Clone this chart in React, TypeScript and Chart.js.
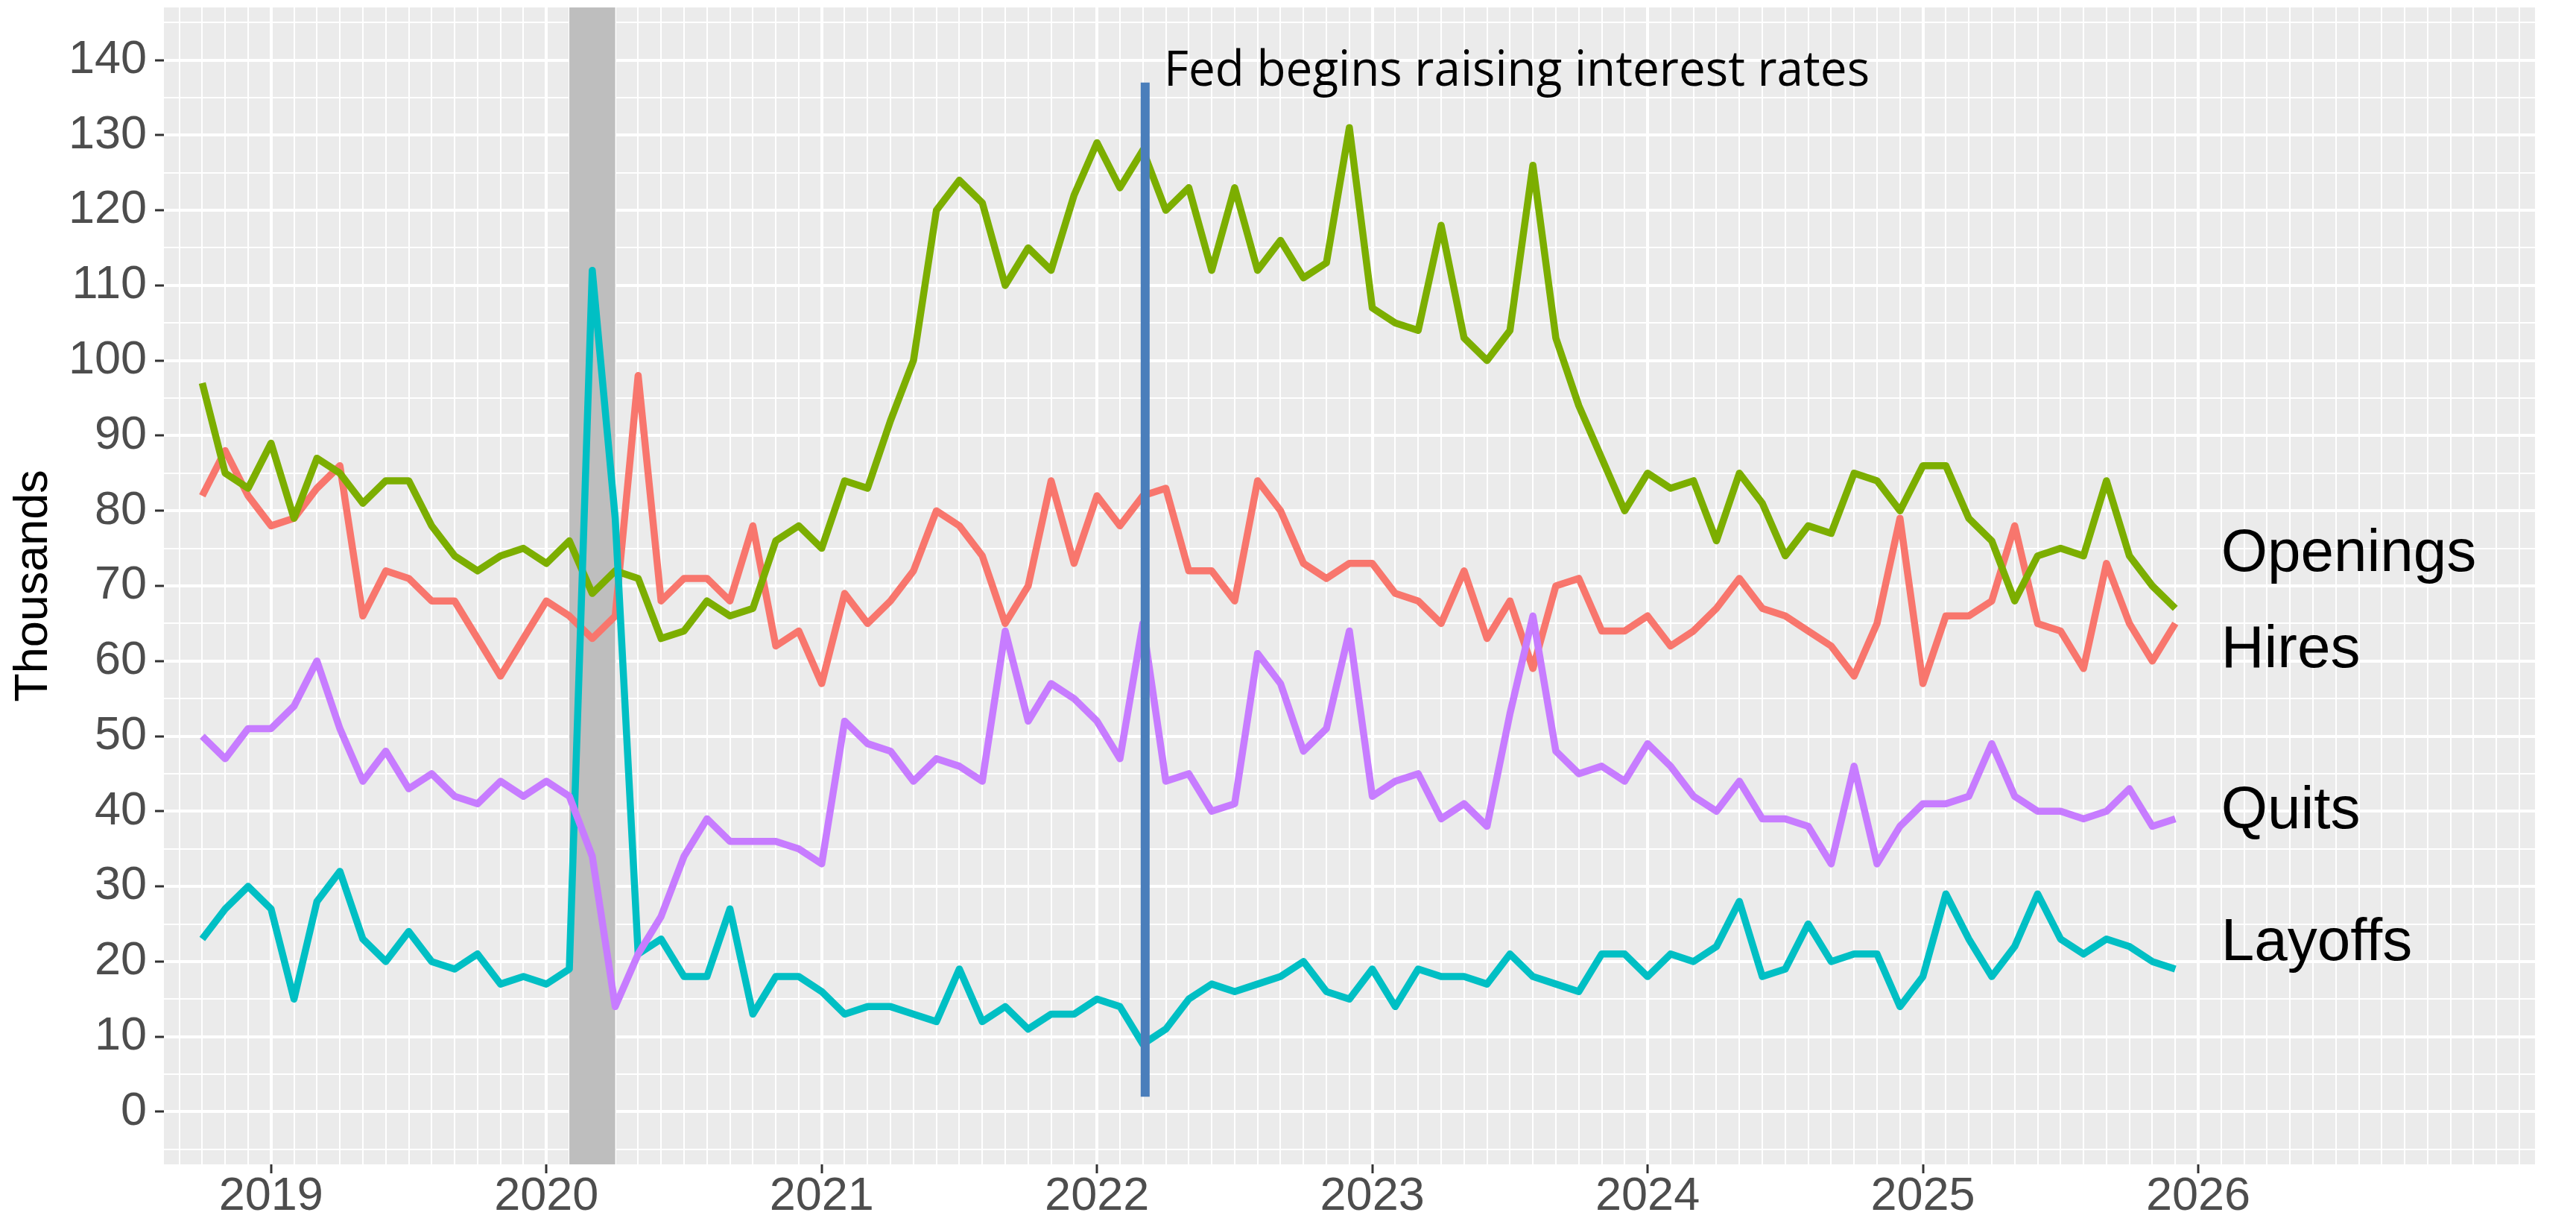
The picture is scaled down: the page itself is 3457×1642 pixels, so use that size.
import { useEffect, useRef } from 'react';
import { Chart, registerables } from 'chart.js';

Chart.register(...registerables);

// Month index: 0 = Jan 2019. First observation is Oct 2018.
const FIRST_MONTH = -3;

const OPENINGS = [
  97, 85, 83, 89, 79, 87, 85, 81, 84, 84, 78, 74,
  72, 74, 75, 73, 76, 69, 72, 71, 63, 64, 68, 66, 67,
  76, 78, 75, 84, 83, 92, 100, 120, 124, 121, 110, 115, 112,
  122, 129, 123, 128, 120, 123, 112, 123, 112, 116, 111, 113, 131,
  107, 105, 104, 118, 103, 100, 104, 126, 103, 94, 87, 80, 85,
  83, 84, 76, 85, 81, 74, 78, 77, 85, 84, 80, 86, 86,
  79, 76, 68, 74, 75, 74, 84, 74, 70, 67,
];

const HIRES = [
  82, 88, 82, 78, 79, 83, 86, 66, 72, 71, 68, 68,
  63, 58, 63, 68, 66, 63, 66, 98, 68, 71, 71, 68, 78,
  62, 64, 57, 69, 65, 68, 72, 80, 78, 74, 65, 70, 84,
  73, 82, 78, 82, 83, 72, 72, 68, 84, 80, 73, 71, 73,
  73, 69, 68, 65, 72, 63, 68, 59, 70, 71, 64, 64, 66,
  62, 64, 67, 71, 67, 66, 64, 62, 58, 65, 79, 57, 66,
  66, 68, 78, 65, 64, 59, 73, 65, 60, 65,
];

const QUITS = [
  50, 47, 51, 51, 54, 60, 51, 44, 48, 43, 45, 42,
  41, 44, 42, 44, 42, 34, 14, 21, 26, 34, 39, 36, 36,
  36, 35, 33, 52, 49, 48, 44, 47, 46, 44, 64, 52, 57,
  55, 52, 47, 65, 44, 45, 40, 41, 61, 57, 48, 51, 64,
  42, 44, 45, 39, 41, 38, 53, 66, 48, 45, 46, 44, 49,
  46, 42, 40, 44, 39, 39, 38, 33, 46, 33, 38, 41, 41,
  42, 49, 42, 40, 40, 39, 40, 43, 38, 39,
];

const LAYOFFS = [
  23, 27, 30, 27, 15, 28, 32, 23, 20, 24, 20, 19,
  21, 17, 18, 17, 19, 112, 79, 21, 23, 18, 18, 27, 13,
  18, 18, 16, 13, 14, 14, 13, 12, 19, 12, 14, 11, 13,
  13, 15, 14, 9, 11, 15, 17, 16, 17, 18, 20, 16, 15,
  19, 14, 19, 18, 18, 17, 21, 18, 17, 16, 21, 21, 18,
  21, 20, 22, 28, 18, 19, 25, 20, 21, 21, 14, 18, 29,
  23, 18, 22, 29, 23, 21, 23, 22, 20, 19,
];

const SERIES_NAMES = ['Openings', 'Hires', 'Quits', 'Layoffs'];
const YEAR_LABELS = [2019, 2020, 2021, 2022, 2023, 2024, 2025, 2026];
const Y_TICK_LABELS = [0, 10, 20, 30, 40, 50, 60, 70, 80, 90, 100, 110, 120, 130, 140];
const Y_TITLE = 'Thousands';

// Recession shading: Feb 2020 to Apr 2020 (month index)
const RECESSION = [13, 15];
// Fed annotation: March 2022
const FED_MONTH = 38.1;
const FED_SEGMENT = [2, 137];
const FED_TEXT = 'Fed begins raising interest rates';

// ---- layout / style constants ----
const W = 3457;
const H = 1642;
const X_MIN = -4.67;
const X_MAX = 98.68;
const Y_MIN = -7;
const Y_MAX = 147;
const FED_TEXT_POS = { x: 38.92, y: 136.6 };
const LABEL_X = 85.0;
const LABEL_BASELINES = [72, 59.2, 37.8, 20.2];

const COLORS: Record<string, string> = {
  Hires: '#F8766D',
  Openings: '#7CAE00',
  Layoffs: '#00BFC4',
  Quits: '#C77CFF',
};

const SANS = '"Liberation Sans", Arial, sans-serif';

const toPoints = (arr: number[]) => arr.map((v, i) => ({ x: FIRST_MONTH + i, y: v }));

const yearTickValues = YEAR_LABELS.map((yr) => (yr - 2019) * 12);

const panelPlugin = {
  id: 'panelDecor',
  beforeDraw(chart: any) {
    const { ctx, chartArea } = chart;
    ctx.save();
    ctx.fillStyle = '#FFFFFF';
    ctx.fillRect(0, 0, chart.width, chart.height);
    ctx.fillStyle = '#EBEBEB';
    ctx.fillRect(chartArea.left, chartArea.top, chartArea.right - chartArea.left, chartArea.bottom - chartArea.top);
    ctx.restore();
  },
  beforeDatasetsDraw(chart: any) {
    const { ctx, chartArea, scales } = chart;
    const x0 = scales.x.getPixelForValue(RECESSION[0]);
    const x1 = scales.x.getPixelForValue(RECESSION[1]);
    ctx.save();
    ctx.fillStyle = '#BEBEBE';
    ctx.fillRect(x0, chartArea.top, x1 - x0, chartArea.bottom - chartArea.top);
    ctx.restore();
  },
  afterDatasetsDraw(chart: any) {
    const { ctx, scales } = chart;
    const xs = scales.x;
    const ys = scales.y;
    ctx.save();
    // Fed line
    const fx = xs.getPixelForValue(FED_MONTH);
    ctx.strokeStyle = '#4A7EBB';
    ctx.lineWidth = 12;
    ctx.lineCap = 'butt';
    ctx.beginPath();
    ctx.moveTo(fx, ys.getPixelForValue(FED_SEGMENT[0]));
    ctx.lineTo(fx, ys.getPixelForValue(FED_SEGMENT[1]));
    ctx.stroke();

    // Fed text
    ctx.fillStyle = '#000000';
    ctx.font = '66px "Open Sans", "Noto Sans", sans-serif';
    ctx.textBaseline = 'alphabetic';
    ctx.textAlign = 'left';
    const tw = ctx.measureText(FED_TEXT).width;
    const sx = 947 / tw;
    ctx.save();
    ctx.translate(xs.getPixelForValue(FED_TEXT_POS.x), ys.getPixelForValue(FED_TEXT_POS.y));
    ctx.scale(sx, 1);
    ctx.fillText(FED_TEXT, 0, 0);
    ctx.restore();

    // Series labels
    ctx.font = `80px ${SANS}`;
    ctx.fillStyle = '#000000';
    SERIES_NAMES.forEach((name, i) => {
      ctx.fillText(name, xs.getPixelForValue(LABEL_X), ys.getPixelForValue(LABEL_BASELINES[i]));
    });
    ctx.restore();
  },
};

export default function App() {
  const ref = useRef<HTMLCanvasElement>(null);

  useEffect(() => {
    const canvas = ref.current;
    if (!canvas) return;

    const lineDs = (name: string, arr: number[]) => ({
      label: name,
      data: toPoints(arr),
      borderColor: COLORS[name],
      backgroundColor: COLORS[name],
      borderWidth: 9.5,
      pointRadius: 0,
      tension: 0,
      fill: false,
      borderJoinStyle: 'round' as const,
      borderCapStyle: 'butt' as const,
    });

    const chart = new Chart(canvas, {
      type: 'line',
      data: {
        // first dataset is drawn on top
        datasets: [
          lineDs('Quits', QUITS),
          lineDs('Layoffs', LAYOFFS),
          lineDs('Openings', OPENINGS),
          lineDs('Hires', HIRES),
        ],
      },
      options: {
        responsive: false,
        maintainAspectRatio: false,
        animation: false,
        devicePixelRatio: 1,
        layout: { padding: { left: 0, right: 55, top: 10, bottom: 0 } },
        plugins: {
          legend: { display: false },
          tooltip: { enabled: false },
        },
        scales: {
          x: {
            type: 'linear',
            min: X_MIN,
            max: X_MAX,
            afterBuildTicks: (s: any) => {
              const t = [];
              for (let v = Math.ceil(X_MIN); v <= Math.floor(X_MAX); v++) t.push({ value: v });
              s.ticks = t;
            },
            afterFit: (s: any) => {
              s.height = 80;
              s.paddingLeft = 0;
              s.paddingRight = 0;
              s.paddingTop = 0;
              s.paddingBottom = 0;
            },
            ticks: {
              autoSkip: false,
              maxRotation: 0,
              minRotation: 0,
              padding: 0,
              color: '#4D4D4D',
              font: { family: SANS, size: 63, lineHeight: 1 },
              callback: (v: any) => {
                const idx = yearTickValues.indexOf(Number(v));
                return idx >= 0 ? String(YEAR_LABELS[idx]) : '';
              },
            },
            grid: {
              color: '#FFFFFF',
              lineWidth: (c: any) => (yearTickValues.includes(c.tick?.value) ? 4 : 2),
              drawTicks: true,
              tickLength: 12,
              tickWidth: 3,
              tickColor: (c: any) => (yearTickValues.includes(c.tick?.value) ? '#333333' : 'rgba(0,0,0,0)'),
            },
            border: { display: false },
          },
          y: {
            type: 'linear',
            min: Y_MIN,
            max: Y_MAX,
            afterBuildTicks: (s: any) => {
              const t = [];
              for (let v = -5; v <= 145; v += 5) t.push({ value: v });
              s.ticks = t;
            },
            afterFit: (s: any) => {
              s.width = 220;
              s.paddingLeft = 0;
              s.paddingRight = 0;
              s.paddingTop = 0;
              s.paddingBottom = 0;
            },
            ticks: {
              autoSkip: false,
              padding: 11,
              color: '#4D4D4D',
              font: { family: SANS, size: 63 },
              callback: (v: any) => (Y_TICK_LABELS.includes(Number(v)) ? String(v) : ''),
            },
            grid: {
              color: '#FFFFFF',
              lineWidth: (c: any) => (Y_TICK_LABELS.includes(c.tick?.value) ? 4 : 2),
              drawTicks: true,
              tickLength: 12,
              tickWidth: 3,
              tickColor: (c: any) => (Y_TICK_LABELS.includes(c.tick?.value) ? '#333333' : 'rgba(0,0,0,0)'),
            },
            border: { display: false },
            title: {
              display: true,
              text: Y_TITLE,
              color: '#000000',
              font: { family: SANS, size: 63 },
              padding: { top: 8, bottom: 0 },
            },
          },
        },
      },
      plugins: [panelPlugin],
    } as any);

    return () => chart.destroy();
  }, []);

  return (
    <div style={{ position: 'fixed', left: 0, top: 0, width: W, height: H, background: '#FFFFFF' }}>
      <canvas ref={ref} width={W} height={H} style={{ display: 'block', width: W, height: H }} />
    </div>
  );
}
